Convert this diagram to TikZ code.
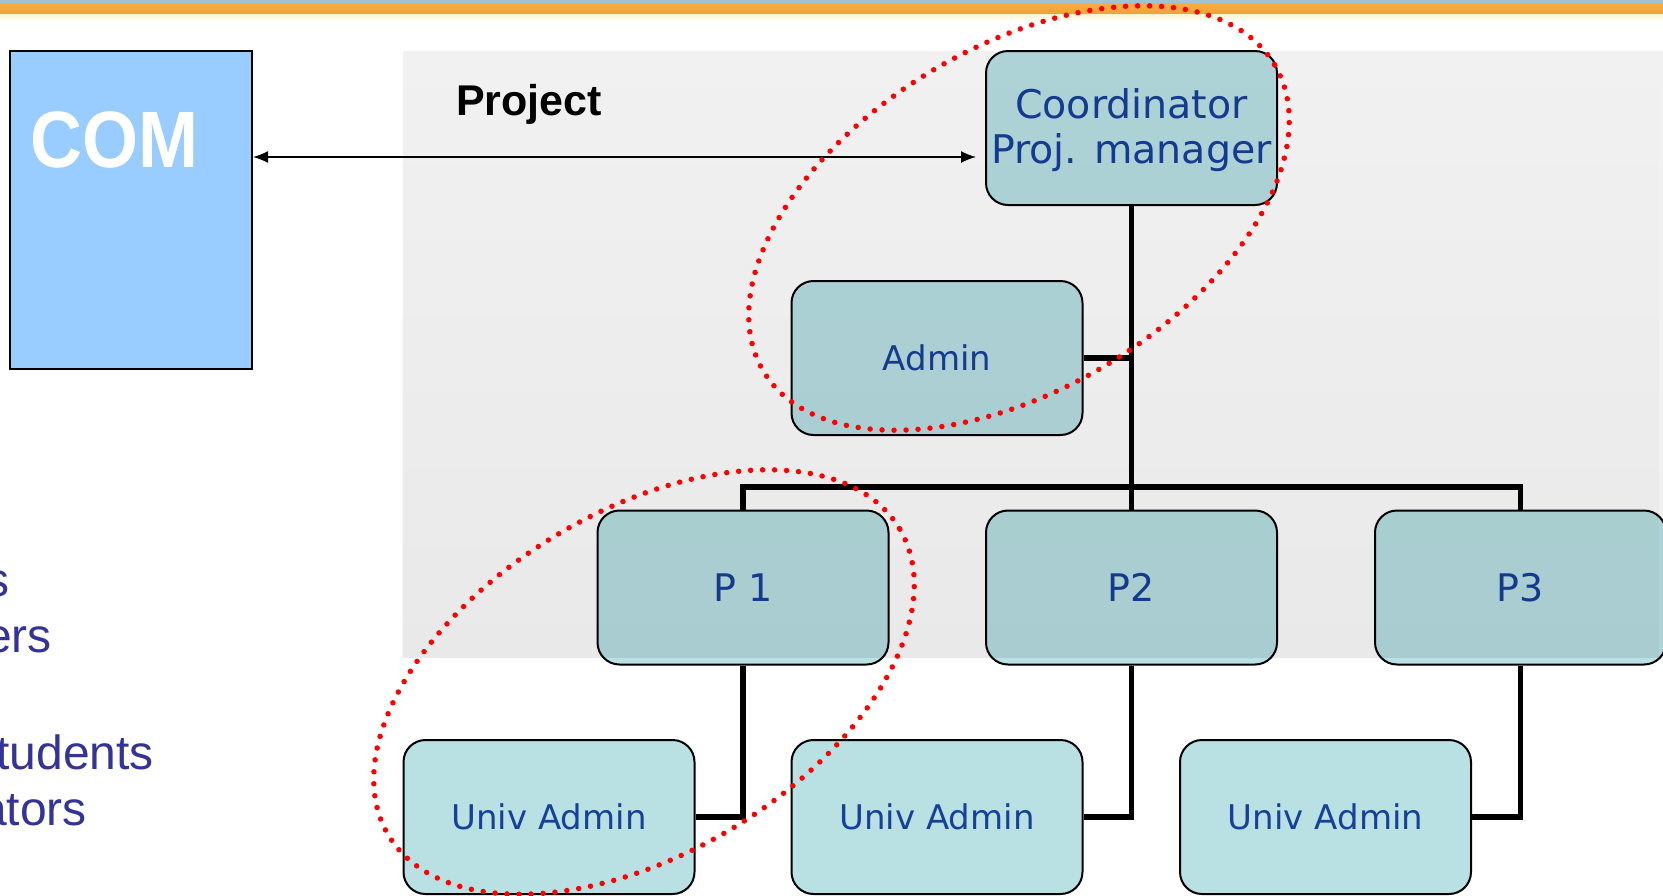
\documentclass[tikz,border=0pt]{standalone}
\usepackage{fontspec}
\setmainfont{DejaVu Sans}
\newfontfamily\arialfont{Liberation Sans}
\usetikzlibrary{arrows.meta,fadings}
\definecolor{boxfill}{RGB}{185,224,227}
\definecolor{boxtext}{RGB}{23,64,153}
\definecolor{comfill}{RGB}{153,204,255}
\definecolor{sidetext}{RGB}{51,51,153}
\definecolor{barblue}{RGB}{160,196,212}
\definecolor{barorange}{RGB}{248,174,60}
\definecolor{barorangeb}{RGB}{240,162,58}
\definecolor{barpale}{RGB}{255,244,204}
\definecolor{dotred}{RGB}{255,0,0}
\begin{document}
\begin{tikzpicture}[x=1pt,y=-1pt,
  orgbox/.style={draw=black, line width=2pt, fill=boxfill, rounded corners=22pt,
    minimum width=291pt, minimum height=154pt, inner sep=0pt, text=boxtext, align=center},
  bigtext/.style={font=\fontsize{38}{45}\selectfont},
  coordtext/.style={font=\fontsize{39.5}{45}\selectfont},
  smalltext/.style={font=\fontsize{34}{40}\selectfont},
  conn/.style={line width=5.5pt, draw=black, line join=miter},
  ring/.style={draw=dotred, line width=5.5pt, line cap=round, dash pattern=on 0pt off 12pt},
  sidelabel/.style={font=\arialfont\fontsize{48}{57}\selectfont, text=sidetext, anchor=base east, inner sep=0pt},
  dblarrow/.style={line width=1.5pt, {Latex[length=15pt,width=12pt]}-{Latex[length=15pt,width=12pt]}}
]
\useasboundingbox (0,0) rectangle (1663,895);
\fill[white] (0,0) rectangle (1663,895);
% top bar
\fill[barblue] (0,0) rectangle (1663,3);
\shade[top color=barorange, bottom color=barorangeb] (0,3) rectangle (1663,14);
\shade[top color=barpale, bottom color=white] (0,14) rectangle (1663,21);

% COM box
\node[draw=black, line width=2pt, fill=comfill, minimum width=242.5pt, minimum height=318pt, inner sep=0pt] (com) at (130.75,210) {};
\node[font=\arialfont\bfseries\fontsize{80}{90}\selectfont, text=white, anchor=base, inner sep=0pt] (comlabel) at (114.5,167) {\scalebox{0.9}[1]{COM}};

% side texts
\node[sidelabel] (s1) at (10,596) {s};
\node[sidelabel] (s2) at (52,652) {ers};
\node[sidelabel] (s3) at (154,769) {tudents};
\node[sidelabel] (s4) at (87,825) {ators};

% project label
\node[font=\arialfont\bfseries\fontsize{43}{50}\selectfont, anchor=base west, inner sep=0pt] (projlabel) at (456,115) {Project};

% boxes
\node[orgbox,coordtext] (coord) at (1131.5,128) {\raisebox{-4pt}[\height][\depth]{\begin{tabular}{@{}c@{}}Coordinator\\Proj. manager\end{tabular}}};
\node[orgbox,smalltext] (admin) at (937,358) {Admin};
\node[orgbox,bigtext] (p1) at (743,587.5) {P 1};
\node[orgbox,bigtext] (p2) at (1131.5,587.5) {P2};
\node[orgbox,bigtext] (p3) at (1520.5,587.5) {P3};
\node[orgbox,smalltext] (ua1) at (549,817) {Univ Admin};
\node[orgbox,smalltext] (ua2) at (937,817) {Univ Admin};
\node[orgbox,smalltext] (ua3) at (1325.5,817) {Univ Admin};

% connectors
\coordinate (bary) at (0,487);
\coordinate (arrowy) at (0,157);
\draw[conn] (coord.south) -- (p2.north);
\draw[conn] (admin.east) -- (admin.east -| coord.south);
\draw[conn] (p1.north) -- (p1.north |- bary) -- (p3.north |- bary) -- (p3.north);
\draw[conn] (p1.south) |- (ua1.east);
\draw[conn] (p2.south) |- (ua2.east);
\draw[conn] (p3.south) |- (ua3.east);
\draw[dblarrow] (com.east |- arrowy) -- ([xshift=-9pt]coord.west |- arrowy);

% panel overlay (slight top-to-bottom gradient)
\fill[black, fill opacity=0.055] (403,51) rectangle (1663,658);
\fill[black, fill opacity=0.03, path fading=north] (403,51) rectangle (1663,658);

% dotted rings
\coordinate (ringa) at (1019,218);
\coordinate (ringb) at (644,682);
\draw[ring, rotate around={31:(ringa)}] (ringa) ellipse [x radius=298pt, y radius=171pt];
\draw[ring, rotate around={31:(ringb)}] (ringb) ellipse [x radius=298pt, y radius=171pt];
\end{tikzpicture}
\end{document}
